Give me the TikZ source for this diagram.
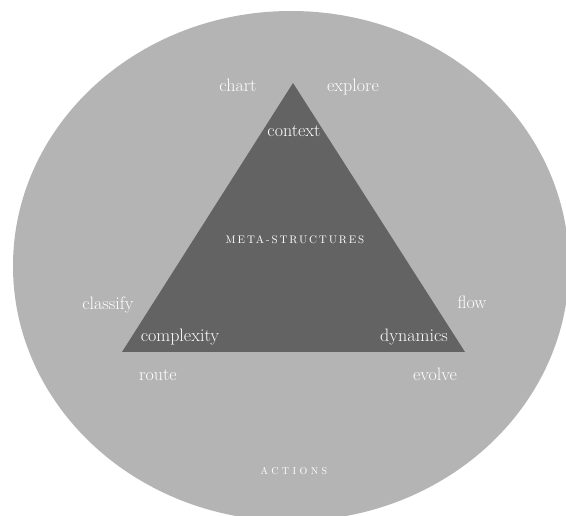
\documentclass[tikz,border=0pt]{standalone}
\usepackage{fontspec}
\setmainfont{Latin Modern Roman}
\usepackage{tikz}

\definecolor{cerchio}{RGB}{180,180,180}
\definecolor{triangolo}{RGB}{99,99,99}

\tikzset{
	parola/.style={text=white, inner sep=0pt, anchor=base, font=\fontsize{18}{20}\selectfont},
	titolo/.style={text=white, inner sep=0pt, anchor=base, font=\fontsize{11}{13}\selectfont\addfontfeatures{LetterSpace=17}}
}

\begin{document}
\begin{tikzpicture}[x=1pt, y=-1pt]
		    \begin{scope}
					\clip (0,0) rectangle (566,516);
					\fill[white] (0,0) rectangle (566,516);

					\fill[cerchio] (291,266) ellipse [x radius=278pt, y radius=255pt]; % cerchio esterno

					\coordinate (apice) at (293,83);
					\coordinate (sinistra) at (122,352);
					\coordinate (destra) at (465,352);
					\fill[triangolo] (apice) -- (sinistra) -- (destra) -- cycle; % triangolo

					\node[parola] (chart) at (238,92) {chart};
					\node[parola] (explore) at (353,92) {explore};
					\node[parola] (context) at (294,137) {context};

					\node[titolo] (meta) at (295,244) {META-STRUCTURES};

					\node[parola] (classify) at (108,310) {classify};
					\node[parola] (complexity) at (180,342) {complexity};
					\node[parola] (route) at (158,381) {route};

					\node[parola] (flow) at (472,309) {flow};
					\node[parola] (dynamics) at (414,342) {dynamics};
					\node[parola] (evolve) at (435,381) {evolve};

					\node[titolo, font=\fontsize{10}{12}\selectfont\addfontfeatures{LetterSpace=34}] (actions) at (294,474) {ACTIONS};
		    \end{scope}
		  \end{tikzpicture}
\end{document}
